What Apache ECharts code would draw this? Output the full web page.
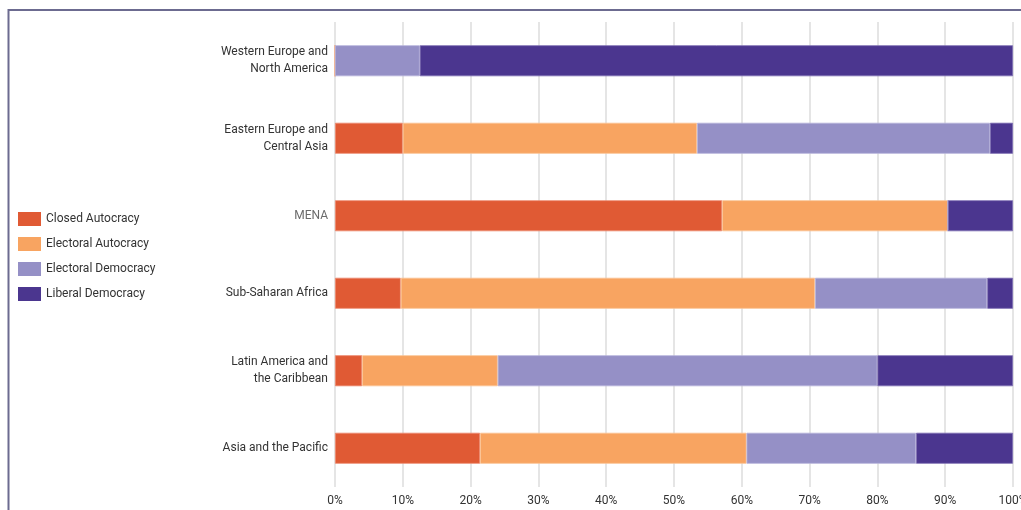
<!DOCTYPE html>
<html><head><meta charset="utf-8">
<script src="https://cdn.jsdelivr.net/npm/echarts@6/dist/echarts.min.js"></script>
<style>html,body{margin:0;padding:0;background:#fff;overflow:hidden}#c{width:1021px;height:510px}</style>
</head><body><div id="c"></div>
<script>
const categories = ["Asia and the Pacific", "Latin America and\nthe Caribbean", "Sub-Saharan Africa", "MENA", "Eastern Europe and\nCentral Asia", "Western Europe and\nNorth America"];
const seriesNames = ["Closed Autocracy", "Electoral Autocracy", "Electoral Democracy", "Liberal Democracy"];
const closedAutocracy = [21.4, 4.0, 9.7, 57.1, 10.0, 0];
const electoralAutocracy = [39.3, 20.0, 61.1, 33.3, 43.4, 0];
const electoralDemocracy = [25.0, 56.0, 25.4, 0, 43.2, 12.5];
const liberalDemocracy = [14.3, 20.0, 3.8, 9.6, 3.4, 87.5];
const tickLabels = ["0%","10%","20%","30%","40%","50%","60%","70%","80%","90%","100%"];

const colors = ["#e05a34", "#f8a461", "#9590c6", "#4b368f"];
const borders = ["#ee8a70", "#fbc393", "#b6b2da", "#7d6fb3"];
const values = [closedAutocracy, electoralAutocracy, electoralDemocracy, liberalDemocracy];
const font = "Roboto, 'Open Sans', sans-serif";

const chart = echarts.init(document.getElementById('c'), null, {renderer: 'canvas'});
chart.setOption({
  animation: false,
  textStyle: {fontFamily: font},
  legend: {
    orient: 'vertical', left: 13, top: 207, itemWidth: 23, itemHeight: 14, itemGap: 11,
    icon: 'rect',
    itemStyle: {borderWidth: 0},
    textStyle: {fontSize: 12, lineHeight: 14, color: '#333', fontFamily: font, padding: [0,0,0,0]},
    data: seriesNames
  },
  grid: {left: 335, right: 8, top: 22, bottom: 23, containLabel: false, outerBoundsMode: 'none'},
  xAxis: {
    type: 'value', min: 0, max: 100, interval: 10,
    axisLine: {show: false}, axisTick: {show: false},
    splitLine: {show: true, lineStyle: {color: '#dcdcdc', width: 1.5}},
    axisLabel: {formatter: v => tickLabels[v/10], fontSize: 12, color: '#333', margin: 8, fontFamily: font}
  },
  yAxis: {
    type: 'category', data: categories,
    axisLine: {show: false}, axisTick: {show: false},
    axisLabel: {
      fontSize: 12, color: '#333', margin: 7, lineHeight: 17, align: 'right', fontFamily: font,
      formatter: v => v === 'MENA' ? '{g|' + v + '}' : v,
      rich: {g: {color: '#6b6b6b', fontSize: 12, fontFamily: font}}
    }
  },
  series: seriesNames.map((n, i) => ({
    name: n, type: 'bar', stack: 'total', data: values[i], barWidth: '40%',
    itemStyle: {color: colors[i], borderColor: borders[i], borderWidth: 0.8}
  })),
  graphic: [
    {type: 'polyline', shape: {points: [[8.5, 520], [8.5, 10], [1030, 10]]}, style: {stroke: '#6c6b90', lineWidth: 2, fill: null}}
  ]
});
</script></body></html>
